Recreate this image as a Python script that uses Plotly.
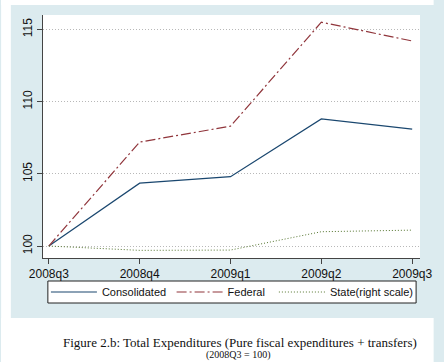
import plotly.graph_objects as go

quarters = ["2008q3", "2008q4", "2009q1", "2009q2", "2009q3"]
consolidated = [100, 104.35, 104.8, 108.8, 108.1]
federal = [100, 107.2, 108.3, 115.5, 114.2]
state = [100, 99.7, 99.72, 100.99, 101.1]
y_ticks = [100, 105, 110, 115]

W, H = 444, 362
L, R, T, B = 43, 14, 15, 104
pw, ph = W - L - R, H - T - B

def px_x(x):
    return (x - L) / pw

def px_y(y):
    return (H - B - y) / ph

fig = go.Figure()
fig.add_trace(go.Scatter(x=quarters, y=consolidated, mode="lines", name="Consolidated",
                         line=dict(color="#1a476f", width=1.2), legend="legend"))
fig.add_trace(go.Scatter(x=quarters, y=federal, mode="lines", name="Federal",
                         line=dict(color="#90353b", width=1.2, dash="10px,3px,2px,3px"), legend="legend2"))
fig.add_trace(go.Scatter(x=quarters, y=state, mode="lines", name="State(right scale)",
                         line=dict(color="#55752f", width=1, dash="1px,2px"), yaxis="y2", legend="legend3"))

bg = "#dcebef"
leg_font = dict(family="Liberation Sans, Arial", size=11, color="#111")
common_leg = dict(orientation="h", bgcolor="rgba(0,0,0,0)", borderwidth=0, font=leg_font,
                  yanchor="middle", xanchor="left", itemwidth=46)

white_strip = dict(type="rect", xref="paper", yref="paper", layer="above",
                   fillcolor="white", line=dict(width=0))

fig.update_layout(
    width=W, height=H,
    margin=dict(l=L, r=R, t=T, b=B),
    paper_bgcolor=bg, plot_bgcolor="white",
    showlegend=True,
    legend=dict(x=px_x(46), y=px_y(292), **common_leg),
    legend2=dict(x=px_x(175), y=px_y(292), **common_leg),
    legend3=dict(x=px_x(280), y=px_y(292), **common_leg),
    xaxis=dict(type="category", range=[-0.064, 4.086], showline=True, linecolor="#444",
               linewidth=1, ticks="outside", ticklen=5, tickcolor="#444", showgrid=False,
               tickfont=dict(family="Liberation Sans, Arial", size=12, color="#111")),
    yaxis=dict(range=[99.17, 116.0], tickvals=y_ticks, showline=True, linecolor="#444",
               linewidth=1, ticks="outside", ticklen=5, tickcolor="#444", tickangle=-90,
               showgrid=True, gridcolor="#b8b8b8", griddash="1px,2px", gridwidth=1,
               zeroline=False,
               tickfont=dict(family="Liberation Sans, Arial", size=12, color="#111")),
    yaxis2=dict(range=[99.17, 116.0], overlaying="y", visible=False),
    shapes=[
        dict(white_strip, x0=px_x(0), x1=px_x(444), y0=px_y(5), y1=px_y(0)),
        dict(white_strip, x0=px_x(0), x1=px_x(10), y0=px_y(362), y1=px_y(0)),
        dict(white_strip, x0=px_x(0), x1=px_x(444), y0=px_y(362), y1=px_y(318)),
        dict(type="rect", xref="paper", yref="paper", layer="above",
             x0=px_x(48), x1=px_x(426), y0=px_y(303), y1=px_y(281),
             fillcolor="white", line=dict(color="#222", width=1)),
    ],
    annotations=[
        dict(text="Figure 2.b: Total Expenditures (Pure fiscal expenditures + transfers)",
             xref="paper", yref="paper", x=px_x(245), y=px_y(342), showarrow=False,
             xanchor="center", yanchor="middle",
             font=dict(family="Liberation Serif, Times New Roman", size=13, color="#111")),
        dict(text="(2008Q3 = 100)",
             xref="paper", yref="paper", x=px_x(244), y=px_y(355), showarrow=False,
             xanchor="center", yanchor="middle",
             font=dict(family="Liberation Serif, Times New Roman", size=10, color="#111")),
    ],
)

fig.write_html("out.html", config={"displayModeBar": False},
               post_script="document.body.style.margin='0';document.body.style.padding='0';")
